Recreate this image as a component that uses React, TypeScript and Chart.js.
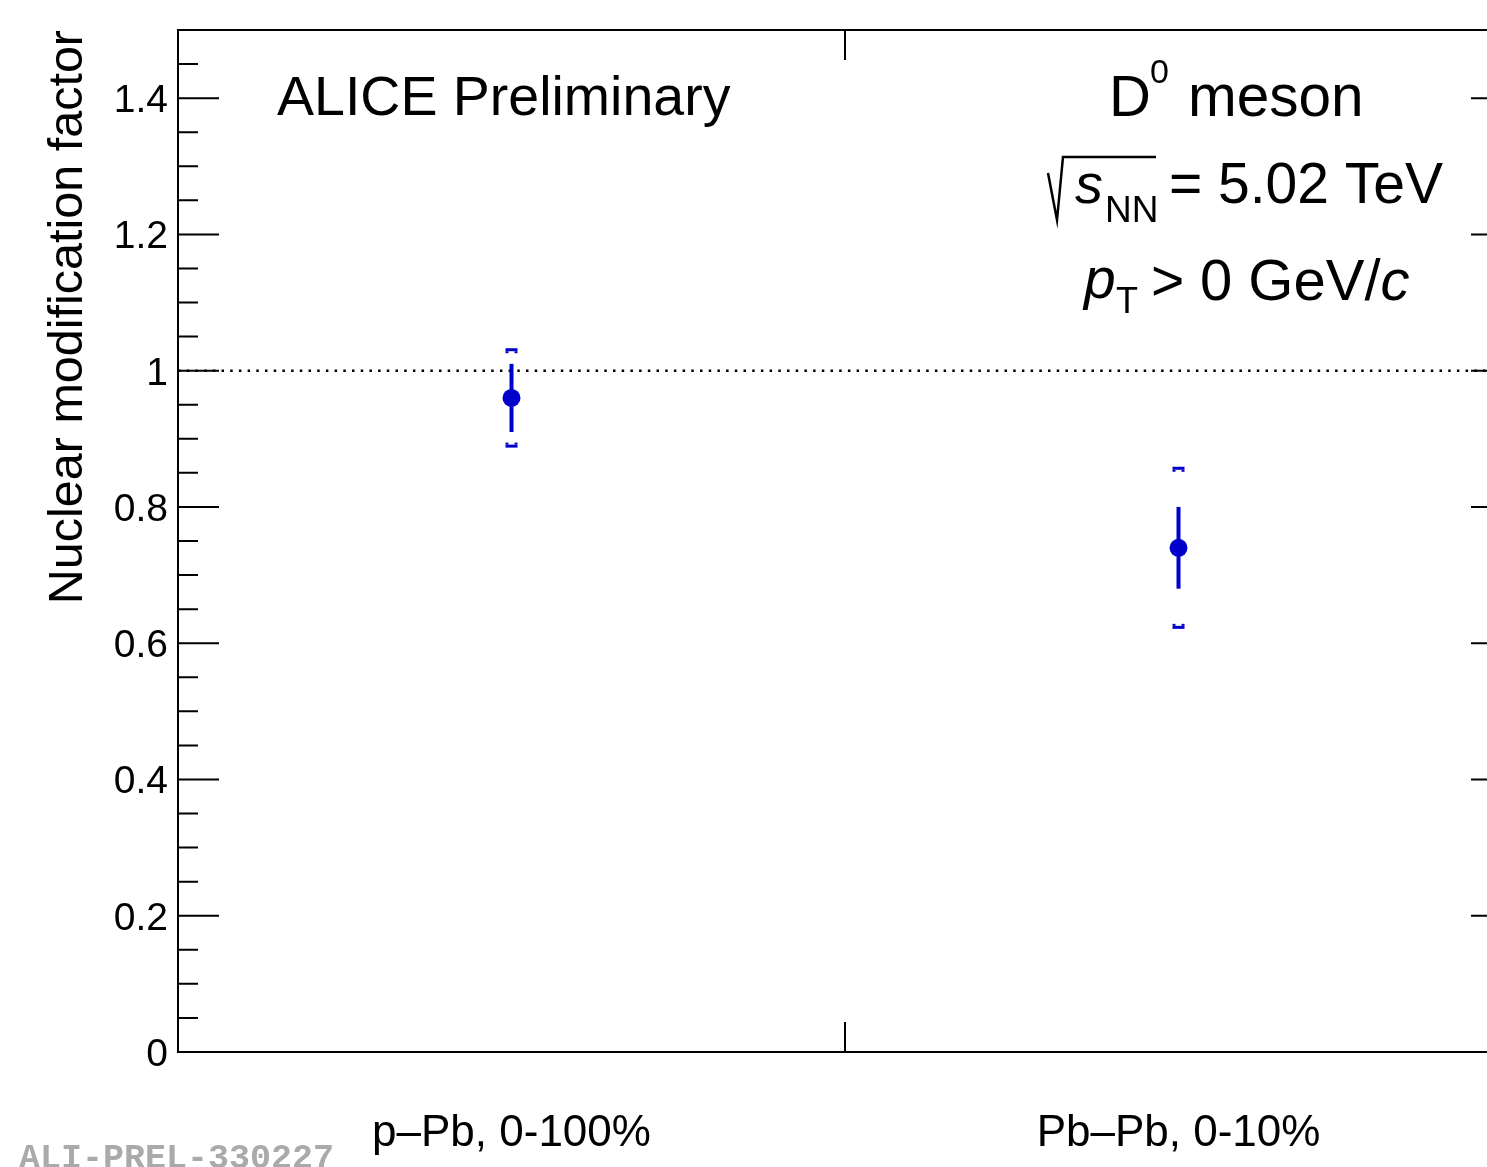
import React, { useEffect, useRef } from "react";
import { Chart, registerables } from "chart.js";

Chart.register(...registerables);

// ---- data ----
const categories = ["p\u2013Pb, 0-100%", "Pb\u2013Pb, 0-10%"];
const categoryX = [0.5, 1.5];
const values = [0.96, 0.74];
const statErrors = [0.05, 0.06];
const systErrors = [0.07, 0.116];
const yTickValues = [0, 0.2, 0.4, 0.6, 0.8, 1, 1.2, 1.4];
const yTickLabels = ["0", "0.2", "0.4", "0.6", "0.8", "1", "1.2", "1.4"];
const yMinorStep = 0.05;
const xTickValues = [1];
const referenceValue = 1;
const yMin = 0;
const yMax = 1.5;
const xMin = 0;
const xFullMax = 2;
const xVisibleMax = 1.9625; // frame extends past the right edge of the picture

// ---- style ----
const W = 1487;
const H = 1167;
const FONT = '"Liberation Sans", Arial, Helvetica, sans-serif';
const MONO = '"Liberation Mono", "Courier New", monospace';
const BLUE = "#0000cc";

const rootPlugin = {
  id: "rootStyle",
  beforeDatasetsDraw(chart: any) {
    const { ctx, chartArea, scales } = chart;
    const xs = scales.x;
    const ys = scales.y;
    ctx.save();
    // dotted reference line
    const yRef = ys.getPixelForValue(referenceValue);
    ctx.beginPath();
    ctx.setLineDash([2.5, 6.2]);
    ctx.lineWidth = 2.5;
    ctx.strokeStyle = "#000";
    ctx.moveTo(chartArea.left, yRef);
    ctx.lineTo(xs.getPixelForValue(xFullMax), yRef);
    ctx.stroke();
    ctx.setLineDash([]);

    // error bars
    ctx.fillStyle = BLUE;
    ctx.strokeStyle = BLUE;
    for (let i = 0; i < values.length; i++) {
      const px = xs.getPixelForValue(categoryX[i]);
      const yst = ys.getPixelForValue(values[i] + statErrors[i]);
      const ysb = ys.getPixelForValue(values[i] - statErrors[i]);
      ctx.lineWidth = 4;
      ctx.beginPath();
      ctx.moveTo(px, yst);
      ctx.lineTo(px, ysb);
      ctx.stroke();
      const yt = ys.getPixelForValue(values[i] + systErrors[i]);
      const yb = ys.getPixelForValue(values[i] - systErrors[i]);
      ctx.fillRect(px - 6, yt - 2, 12, 3);
      ctx.fillRect(px - 6, yt + 1, 3, 2);
      ctx.fillRect(px + 3, yt + 1, 3, 2);
      ctx.fillRect(px - 6, yb - 1, 12, 3);
      ctx.fillRect(px - 6, yb - 3, 3, 2);
      ctx.fillRect(px + 3, yb - 3, 3, 2);
    }
    ctx.restore();
  },
  afterDraw(chart: any) {
    const { ctx, scales } = chart;
    const xs = scales.x;
    const ys = scales.y;
    const L = xs.getPixelForValue(xMin);
    const R = xs.getPixelForValue(xFullMax);
    const T = ys.getPixelForValue(yMax);
    const B = ys.getPixelForValue(yMin);
    ctx.save();
    ctx.strokeStyle = "#000";
    ctx.lineWidth = 2;
    ctx.strokeRect(L, T, R - L, B - T);

    // y ticks
    const nSteps = Math.round((yMax - yMin) / yMinorStep);
    ctx.beginPath();
    for (let k = 0; k <= nSteps; k++) {
      const v = yMin + k * yMinorStep;
      const py = ys.getPixelForValue(v);
      const major = k % 4 === 0;
      const len = major ? 41 : 20;
      ctx.moveTo(L, py);
      ctx.lineTo(L + len, py);
      ctx.moveTo(R, py);
      ctx.lineTo(R - len, py);
    }
    // x ticks
    for (const xv of xTickValues) {
      const px = xs.getPixelForValue(xv);
      ctx.moveTo(px, T);
      ctx.lineTo(px, T + 30);
      ctx.moveTo(px, B);
      ctx.lineTo(px, B - 30);
    }
    ctx.stroke();

    // y tick labels
    ctx.fillStyle = "#000";
    ctx.font = `39px ${FONT}`;
    ctx.textAlign = "right";
    ctx.textBaseline = "alphabetic";
    for (let i = 0; i < yTickValues.length; i++) {
      const py = ys.getPixelForValue(yTickValues[i]);
      ctx.fillText(yTickLabels[i], L - 10, py + 14);
    }

    // category labels
    ctx.font = `44px ${FONT}`;
    ctx.textAlign = "center";
    for (let i = 0; i < categories.length; i++) {
      ctx.fillText(categories[i], xs.getPixelForValue(categoryX[i]), 1146);
    }

    // y axis title
    ctx.save();
    ctx.translate(82, T);
    ctx.rotate(-Math.PI / 2);
    ctx.font = `48.5px ${FONT}`;
    ctx.textAlign = "right";
    ctx.fillText("Nuclear modification factor", 0, 0);
    ctx.restore();

    // ALICE Preliminary
    ctx.textAlign = "left";
    ctx.font = `55.5px ${FONT}`;
    ctx.fillText("ALICE Preliminary", 277, 115);

    // D0 meson
    ctx.font = `58px ${FONT}`;
    ctx.fillText("D", 1109, 116);
    ctx.font = `34px ${FONT}`;
    ctx.fillText("0", 1150, 83);
    ctx.font = `58.5px ${FONT}`;
    ctx.fillText("meson", 1188, 116);

    // sqrt(sNN) = 5.02 TeV
    ctx.lineWidth = 2.5;
    ctx.beginPath();
    ctx.moveTo(1048, 173);
    ctx.lineTo(1057, 220);
    ctx.lineTo(1063, 157);
    ctx.lineTo(1156, 157);
    ctx.stroke();
    ctx.font = `italic 56px ${FONT}`;
    ctx.fillText("s", 1075, 203);
    ctx.font = `37px ${FONT}`;
    ctx.fillText("NN", 1105, 222);
    ctx.font = `57px ${FONT}`;
    ctx.fillText("=", 1169, 203);
    ctx.fillText("5.02 TeV", 1218, 203);

    // pT > 0 GeV/c
    ctx.font = `italic 57px ${FONT}`;
    ctx.fillText("p", 1084, 298);
    ctx.font = `36px ${FONT}`;
    ctx.fillText("T", 1116, 313);
    ctx.font = `57px ${FONT}`;
    ctx.fillText(">", 1151, 300);
    ctx.font = `58px ${FONT}`;
    const txt = "0 GeV/";
    ctx.fillText(txt, 1200, 300);
    const w = ctx.measureText(txt).width;
    ctx.font = `italic 58px ${FONT}`;
    ctx.fillText("c", 1200 + w, 300);

    // watermark
    ctx.font = `bold 35px ${MONO}`;
    ctx.fillStyle = "#aaaaaa";
    ctx.fillText("ALI-PREL-330227", 19, 1168);
    ctx.restore();
  },
};

export default function App() {
  const ref = useRef<HTMLCanvasElement | null>(null);
  useEffect(() => {
    document.body.style.margin = "0";
    document.body.style.overflow = "hidden";
    const canvas = ref.current!;
    const chart = new Chart(canvas, {
      type: "scatter",
      data: {
        datasets: [
          {
            label: "D0",
            data: categoryX.map((x, i) => ({ x, y: values[i] })),
            backgroundColor: BLUE,
            borderColor: BLUE,
            borderWidth: 0,
            pointRadius: 9,
            pointHoverRadius: 9,
            clip: false,
          },
        ],
      },
      options: {
        responsive: false,
        animation: false,
        devicePixelRatio: 1,
        layout: {
          autoPadding: false,
          padding: { left: 178, top: 30, right: 0, bottom: H - 1052 },
        },
        scales: {
          x: { type: "linear", min: xMin, max: xVisibleMax, display: false },
          y: { type: "linear", min: yMin, max: yMax, display: false },
        },
        plugins: {
          legend: { display: false },
          tooltip: { enabled: false },
          title: { display: false },
        },
        events: [],
      },
      plugins: [rootPlugin],
    });
    return () => chart.destroy();
  }, []);
  return (
    <canvas
      ref={ref}
      width={W}
      height={H}
      style={{ display: "block", width: W, height: H }}
    />
  );
}
